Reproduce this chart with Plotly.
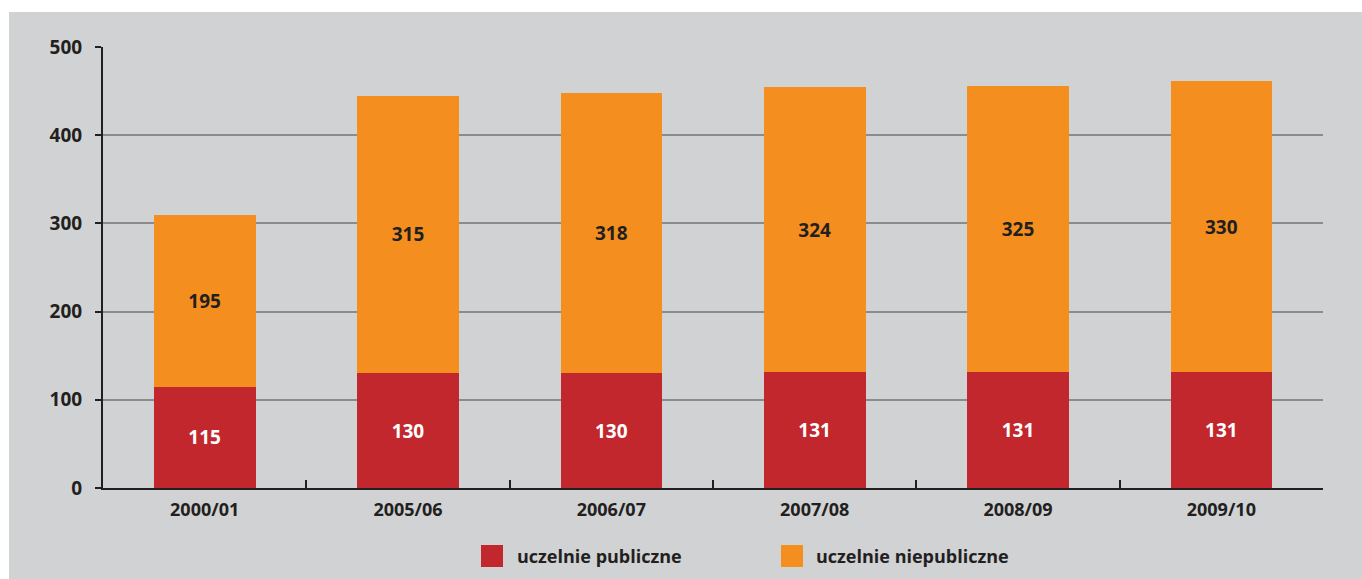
import plotly.graph_objects as go

categories = ["2000/01", "2005/06", "2006/07", "2007/08", "2008/09", "2009/10"]
public_vals = [115, 130, 130, 131, 131, 131]
nonpublic_vals = [195, 315, 318, 324, 325, 330]
series_names = ["uczelnie publiczne", "uczelnie niepubliczne"]
y_ticks = [0, 100, 200, 300, 400, 500]

RED = "#c1272d"
ORANGE = "#f48f1f"
DARK = "#231f20"
BG = "#d1d2d4"
FONT = "Open Sans"

W, H = 1362, 579
L, R, T, B = 103, 39, 47, 91
PW, PH = W - L - R, H - T - B

def px_x(px):
    return (px - L) / PW

def px_y(py):
    return (H - B - py) / PH

fig = go.Figure()
fig.add_trace(go.Bar(
    x=categories, y=public_vals, name=series_names[0], marker_color=RED,
    marker_line_width=0,
    text=public_vals, textposition="inside", insidetextanchor="middle",
    textfont=dict(color="white", size=19, family=FONT, weight="bold"),
    width=0.5, showlegend=False, hoverinfo="skip",
))
fig.add_trace(go.Bar(
    x=categories, y=nonpublic_vals, name=series_names[1], marker_color=ORANGE,
    marker_line_width=0,
    text=nonpublic_vals, textposition="inside", insidetextanchor="middle",
    textfont=dict(color=DARK, size=19, family=FONT, weight="bold"),
    width=0.5, showlegend=False, hoverinfo="skip",
))

shapes = [
    dict(type="rect", xref="paper", yref="paper", x0=px_x(9), x1=px_x(1400),
         y0=px_y(12), y1=px_y(600), fillcolor=BG, line_width=0, layer="below"),
]
annotations = []
legend_items = [(481, 515, RED), (781, 814, ORANGE)]
for (sx, tx, col), name in zip(legend_items, series_names):
    shapes.append(dict(type="rect", xref="paper", yref="paper",
                       x0=px_x(sx), x1=px_x(sx + 22), y0=px_y(567), y1=px_y(545),
                       fillcolor=col, line_width=0))
    annotations.append(dict(xref="paper", yref="paper", x=px_x(tx), y=px_y(556),
                            xanchor="left", yanchor="middle", text=name, showarrow=False,
                            font=dict(size=18, color=DARK, family=FONT, weight="bold")))

fig.update_layout(
    barmode="stack",
    width=W, height=H,
    margin=dict(l=L, r=R, t=T, b=B, pad=0),
    paper_bgcolor="white",
    plot_bgcolor="rgba(0,0,0,0)",
    shapes=shapes,
    annotations=annotations,
    font=dict(family=FONT, color=DARK),
    uniformtext=dict(mode="show", minsize=10),
)
fig.update_xaxes(
    type="category", showgrid=False, showline=True, linecolor=DARK, linewidth=2,
    ticks="inside", tickson="boundaries", ticklen=8, tickwidth=2, tickcolor=DARK,
    tickfont=dict(size=18, color=DARK, family=FONT, weight="bold"),
    ticklabelstandoff=4, fixedrange=True,
)
fig.update_yaxes(
    range=[0, 500], tickvals=y_ticks, showgrid=True, gridcolor="#8a8b8d", gridwidth=1.5,
    showline=True, linecolor=DARK, linewidth=2, zeroline=False,
    ticks="outside", ticklen=6, tickwidth=2, tickcolor=DARK,
    tickfont=dict(size=19, color=DARK, family=FONT, weight="bold"),
    ticklabelstandoff=9, fixedrange=True,
)

fig.write_html("out.html", config={"displayModeBar": False},
               post_script="document.body.style.margin='0';document.body.style.overflow='hidden';")
